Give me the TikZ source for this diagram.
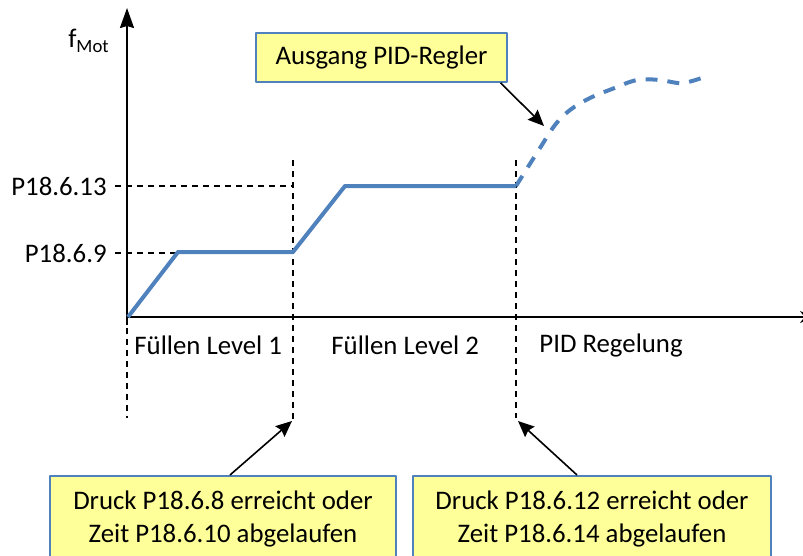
\documentclass[tikz,border=0pt]{standalone}
\usepackage{fontspec}
\setmainfont{Carlito}
\usetikzlibrary{arrows.meta}
\definecolor{plotblue}{RGB}{79,129,189}
\definecolor{noteyellow}{RGB}{255,255,153}
\begin{document}
\begin{tikzpicture}[x=0.5pt, y=-0.5pt, >={Stealth[length=8pt,width=7pt,inset=1pt]}, font=\fontsize{13.4}{16.5}\selectfont, line join=round,
	note/.style={draw=plotblue, fill=noteyellow, line width=0.8pt, align=center, inner sep=0pt},
	lbl/.style={inner sep=1pt},
	guide/.style={dash pattern=on 3pt off 2.5pt, line width=0.9pt},
	curve/.style={plotblue, line width=2pt},
	pointer/.style={->, line width=0.8pt}]
	\useasboundingbox (0,0) rectangle (803,556);
	% axes
	\coordinate (ybot) at (127,325); \coordinate (ytop) at (127,8);
	\coordinate (xbeg) at (127,317); \coordinate (xend) at (814,317);
	\draw[line width=1pt, -{Stealth[length=10pt,width=7pt,inset=1pt]}] (ybot) -- (ytop);
	\draw[line width=0.8pt, -{Stealth[length=7pt,width=6pt]}] (xbeg) -- (xend);
	\node[lbl] (fmot) at (89,41) {f\textsubscript{Mot}};
	\node[lbl, anchor=east] (p13) at (109,186) {P18.6.13};
	\node[lbl, anchor=east] (p9) at (109,253) {P18.6.9};
	% phases
	\node[lbl, anchor=west] (lvl1) at (132,345) {Füllen Level 1};
	\node[lbl, anchor=west] (lvl2) at (329,345) {Füllen Level 2};
	\node[lbl, anchor=west] (pid) at (537,345) {PID Regelung};
	% guide lines
	\coordinate (h13) at (293,186); \coordinate (h9) at (178,253);
	\draw[guide] (p13.east) ++(3pt,0) -- (h13);
	\draw[guide] (p9.east) ++(3pt,0) -- (h9);
	\coordinate (v0) at (127,418);
	\coordinate (v1a) at (293,160); \coordinate (v1b) at (293,421);
	\coordinate (v2a) at (516,160); \coordinate (v2b) at (516,418);
	\draw[guide] (xbeg) -- (v0);
	\draw[guide] (v1a) -- (v1b);
	\draw[guide] (v2a) -- (v2b);
	% f_Mot
	\draw[curve] (128,317) -- (178,252) -- (293,252) -- (345,186) -- (516,186);
	\draw[curve, dash pattern=on 6pt off 5pt] plot[smooth, tension=0.6] coordinates {(516,186) (540,148) (555,125) (570,110) (590,98) (612,89) (637,80) (660,80) (683,83) (710,75)};
	% notes
	\node[note, minimum width=125.5pt, minimum height=24.5pt] (ausgang) at (381.5,57.5) {Ausgang PID-Regler};
	\node[note, minimum width=173pt, minimum height=43.5pt, anchor=north] (cond1) at (223,475) {Druck P18.6.8 erreicht oder\\Zeit P18.6.10 abgelaufen};
	\node[note, minimum width=179pt, minimum height=43.5pt, anchor=north] (cond2) at (592,475) {Druck P18.6.12 erreicht oder\\Zeit P18.6.14 abgelaufen};
	\coordinate (t0) at (544,126);
	\coordinate (t1) at (292,421);
	\coordinate (t2) at (518,421);
	\draw[pointer] (ausgang.-12) -- (t0);
	\draw[pointer] ([xshift=3.5pt]cond1.north) -- (t1);
	\draw[pointer] ([xshift=-7.5pt]cond2.north) -- (t2);
\end{tikzpicture}
\end{document}
